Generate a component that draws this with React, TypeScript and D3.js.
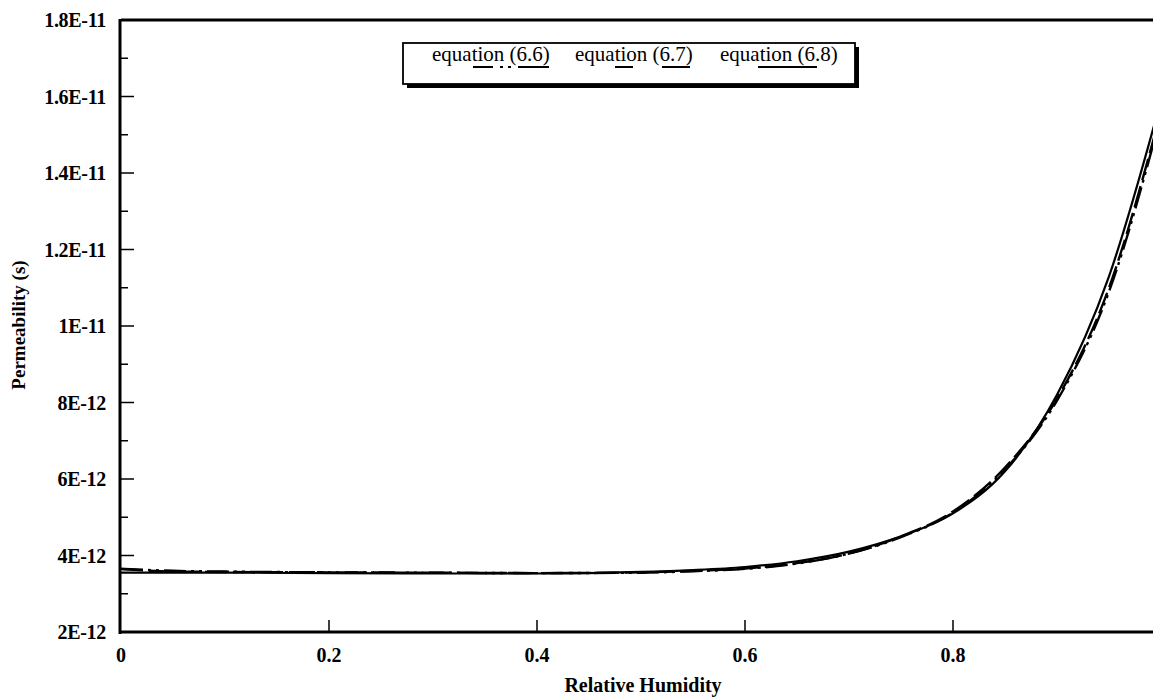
import React from "react";
import * as d3 from "d3";

const W = 1153;
const H = 697;

// Relative humidity samples
const rh = [0, 0.05, 0.1, 0.2, 0.3, 0.4, 0.5, 0.55, 0.6, 0.65, 0.7, 0.75, 0.8, 0.85, 0.9, 0.95, 1.0];
// Permeability (units of 1E-12 s)
const eq66 = [3.65, 3.6, 3.58, 3.56, 3.55, 3.54, 3.55, 3.59, 3.65, 3.79, 4.05, 4.48, 5.12, 6.25, 8.05, 10.9, 15.5];
const eq67 = [3.65, 3.58, 3.57, 3.56, 3.55, 3.54, 3.56, 3.6, 3.66, 3.8, 4.05, 4.5, 5.15, 6.3, 8.1, 11.0, 15.6];
const eq68 = [3.55, 3.55, 3.55, 3.54, 3.53, 3.53, 3.57, 3.62, 3.7, 3.85, 4.1, 4.5, 5.1, 6.2, 8.2, 11.3, 15.9];

const xTicks = [0, 0.2, 0.4, 0.6, 0.8];
const xTickLabels = ["0", "0.2", "0.4", "0.6", "0.8"];
const yTicks = [2e-12, 4e-12, 6e-12, 8e-12, 1e-11, 1.2e-11, 1.4e-11, 1.6e-11, 1.8e-11];
const yTickLabels = ["2E-12", "4E-12", "6E-12", "8E-12", "1E-11", "1.2E-11", "1.4E-11", "1.6E-11", "1.8E-11"];
const legendLabels = ["equation (6.6)", "equation (6.7)", "equation (6.8)"];

const seriesDash = ["22,5,3,5,3,5", "22,6", ""];

export default function App() {
  const x = d3.scaleLinear().domain([0, 1]).range([121, 1161]);
  const y = d3.scaleLinear().domain([2e-12, 1.8e-11]).range([632, 20]);
  const series = [eq66, eq67, eq68];
  const line = d3
    .line<[number, number]>()
    .x((d) => x(d[0]))
    .y((d) => y(d[1] * 1e-12))
    .curve(d3.curveMonotoneX);

  const minorY = d3.range(3e-12, 1.8e-11, 2e-12);
  const font = "'Liberation Serif', 'Times New Roman', serif";

  return (
    <svg
      width={W}
      height={H}
      style={{ position: "absolute", left: 0, top: 0, background: "#fff" }}
    >
      <defs>
        <clipPath id="plotClip">
          <rect x={121} y={0} width={W - 121} height={634} />
        </clipPath>
      </defs>
      <rect x={0} y={0} width={W} height={H} fill="#fff" />

      {/* curves */}
      <g clipPath="url(#plotClip)" fill="none" stroke="#000">
        {series.map((s, i) => (
          <path
            key={i}
            d={line(rh.map((r, j) => [r, s[j]] as [number, number])) || ""}
            strokeWidth={i === 2 ? 2.2 : 2.4}
            strokeDasharray={seriesDash[i]}
          />
        ))}
      </g>

      {/* axes frame */}
      <line x1={121} x2={W} y1={20} y2={20} stroke="#000" strokeWidth={3} />
      <line x1={120} x2={120} y1={19} y2={634} stroke="#000" strokeWidth={3} />
      <line x1={119} x2={W} y1={632} y2={632} stroke="#000" strokeWidth={3} />

      {/* y ticks */}
      {yTicks.map((t, i) => (
        <g key={"y" + i}>
          <line x1={121} x2={134} y1={y(t)} y2={y(t)} stroke="#000" strokeWidth={1.5} />
          <text
            x={106}
            y={y(t) + 7}
            textAnchor="end"
            fontFamily={font}
            fontWeight="bold"
            fontSize={20}
            letterSpacing={-0.3}
          >
            {yTickLabels[i]}
          </text>
        </g>
      ))}
      {minorY.map((t, i) => (
        <line key={"my" + i} x1={121} x2={128} y1={y(t)} y2={y(t)} stroke="#000" strokeWidth={1.5} />
      ))}

      {/* x ticks */}
      {xTicks.map((t, i) => (
        <g key={"x" + i}>
          {i > 0 && (
            <line x1={x(t)} x2={x(t)} y1={632} y2={620} stroke="#000" strokeWidth={1.5} />
          )}
          <text
            x={x(t)}
            y={662}
            textAnchor="middle"
            fontFamily={font}
            fontWeight="bold"
            fontSize={20}
          >
            {xTickLabels[i]}
          </text>
        </g>
      ))}

      {/* axis titles */}
      <text
        x={643}
        y={692}
        textAnchor="middle"
        fontFamily={font}
        fontWeight="bold"
        fontSize={20}
      >
        Relative Humidity
      </text>
      <text
        transform={`translate(25,325) rotate(-90)`}
        textAnchor="middle"
        fontFamily={font}
        fontWeight="bold"
        fontSize={19}
      >
        Permeability (s)
      </text>

      {/* legend */}
      <g>
        <rect x={407} y={47} width={452} height={41} fill="#000" />
        <rect x={403} y={43} width={452} height={41} fill="#fff" stroke="#000" strokeWidth={1.8} />
        {legendLabels.map((lab, i) => {
          const lx = [432, 575, 720][i];
          return (
            <text key={"lt" + i} x={lx} y={61} fontFamily={font} fontSize={21}>
              {lab}
            </text>
          );
        })}
        <line x1={473} x2={554} y1={67} y2={67} stroke="#000" strokeWidth={1.8} strokeDasharray="20,7,3,5,3,7,31" />
        <line x1={615} x2={690} y1={67} y2={67} stroke="#000" strokeWidth={1.8} strokeDasharray="18,29,28" />
        <line x1={758} x2={817} y1={67} y2={67} stroke="#000" strokeWidth={1.8} />
      </g>
    </svg>
  );
}
